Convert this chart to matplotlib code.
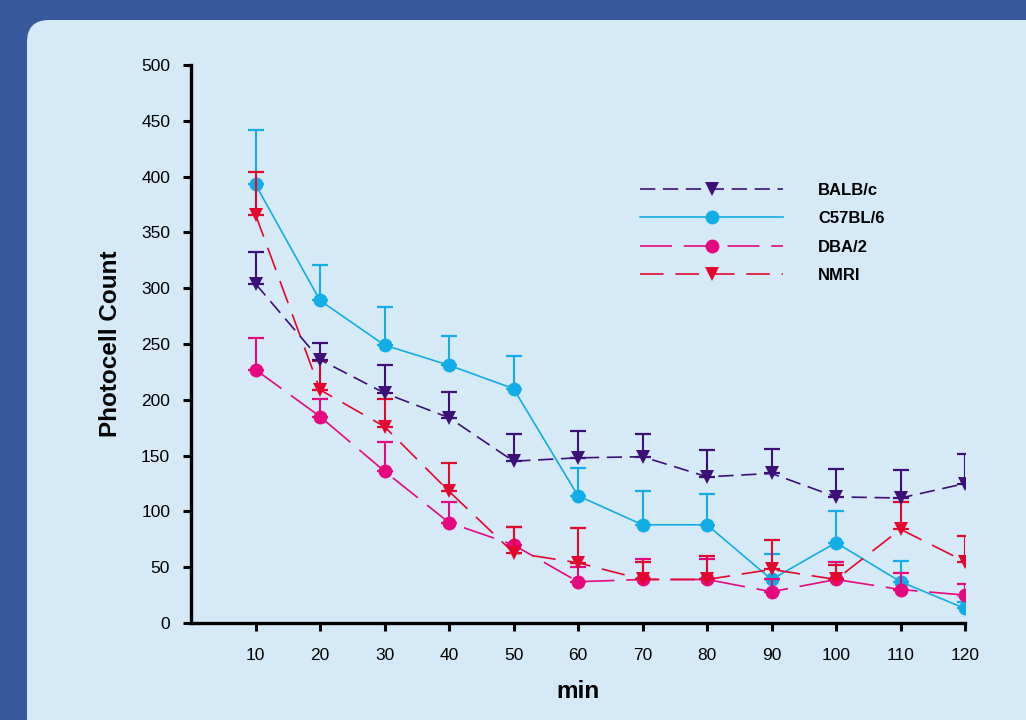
import matplotlib
matplotlib.use("Agg")
import matplotlib.pyplot as plt
import matplotlib.patches as mpatches
from matplotlib.transforms import IdentityTransform
from matplotlib.lines import Line2D
import numpy as np

plt.rcParams['font.family'] = ['Liberation Sans', 'DejaVu Sans']
plt.rcParams['lines.scale_dashes'] = False

minutes = [10, 20, 30, 40, 50, 60, 70, 80, 90, 100, 110, 120]
strains = ["BALB/c", "C57BL/6", "DBA/2", "NMRI"]

balb_mean = [304, 236, 206, 184, 145, 148, 149, 131, 134, 113, 112, 125]
balb_err = [28, 15, 25, 23, 24, 24, 20, 24, 22, 25, 25, 26]
c57_mean = [393, 289, 249, 231, 210, 114, 88, 88, 39, 72, 37, 13]
c57_err = [49, 32, 34, 26, 29, 25, 30, 28, 23, 28, 19, 6]
dba_mean = [227, 185, 136, 90, 70, 37, 39, 39, 28, 39, 30, 25]
dba_err = [28, 16, 26, 18, 16, 13, 18, 18, 11, 16, 15, 10]
nmri_mean = [366, 209, 176, 118, 63, 54, 39, 39, 48, 39, 84, 55]
nmri_err = [38, 26, 25, 25, 23, 31, 16, 21, 26, 13, 24, 23]

yticks = [0, 50, 100, 150, 200, 250, 300, 350, 400, 450, 500]

c_balb = "#3c1078"
c_c57 = "#12ade6"
c_dba = "#e5087e"
c_nmri = "#e3062d"

W, H = 1026, 720
fig = plt.figure(figsize=(W / 100, H / 100), dpi=100)
fig.patch.set_facecolor("#37599b")

panel = mpatches.FancyBboxPatch((27, -40), 1100, 720 - 20 + 40,
                                boxstyle="round,pad=0,rounding_size=22",
                                transform=IdentityTransform(),
                                facecolor="#d6e9f6", edgecolor="none", zorder=-10)
fig.patches.append(panel)

ax = fig.add_axes([191 / W, 1 - 623 / H, (965 - 191) / W, (623 - 65) / H])
ax.set_facecolor("none")

series = [
    ("C57BL/6", c57_mean, c57_err, c_c57, "o", None, 3),
    ("DBA/2", dba_mean, dba_err, c_dba, "o", (23, 8.5), 4),
    ("NMRI", nmri_mean, nmri_err, c_nmri, "v", (17, 8.5), 5),
    ("BALB/c", balb_mean, balb_err, c_balb, "v", (11, 5.5), 6),
]

handles = {}
for name, mean, err, col, mk, dashes, z in series:
    lower = [0] * len(err)
    ax.errorbar(minutes, mean, yerr=[lower, err], fmt="none", ecolor=col,
                elinewidth=1.5, capsize=6, capthick=1.6, zorder=z)
    kw = dict(color=col, linewidth=1.2, marker=mk,
              markersize=10 if mk == "o" else 10.5, markeredgewidth=0,
              markerfacecolor=col, zorder=z + 0.5)
    if dashes is not None:
        kw["dashes"] = dashes
    ax.plot(minutes, mean, **kw)
    handles[name] = Line2D([], [], **kw)

leg = ax.legend([handles[s] for s in strains], strains, loc="upper left",
                bbox_to_anchor=((640 - 191) / (965 - 191), 1 - (183 - 65) / (623 - 65)),
                frameon=False, handlelength=8.6, handletextpad=2.1,
                labelspacing=0.8, numpoints=1, borderaxespad=0, borderpad=0,
                prop=dict(size=12, weight="bold"))

ax.set_xlim(0, 120)
ax.set_ylim(0, 500)
ax.set_xticks(minutes)
ax.set_xticklabels([str(m) for m in minutes])
ax.set_yticks(yticks)
ax.set_yticklabels([str(v) for v in yticks])
for s in ["top", "right"]:
    ax.spines[s].set_visible(False)
for s in ["left", "bottom"]:
    ax.spines[s].set_linewidth(2.4)
    ax.spines[s].set_color("black")
ax.tick_params(axis="both", direction="out", length=6, width=2.2, labelsize=12.5,
               colors="black")
ax.tick_params(axis="x", pad=12)
ax.tick_params(axis="y", pad=9)
ax.set_xlabel("min", fontsize=17.5, fontweight="bold", labelpad=12)
ax.set_ylabel("Photocell Count", fontsize=17.5, fontweight="bold", labelpad=14)

fig.savefig("out.png", dpi=100, facecolor=fig.get_facecolor())
